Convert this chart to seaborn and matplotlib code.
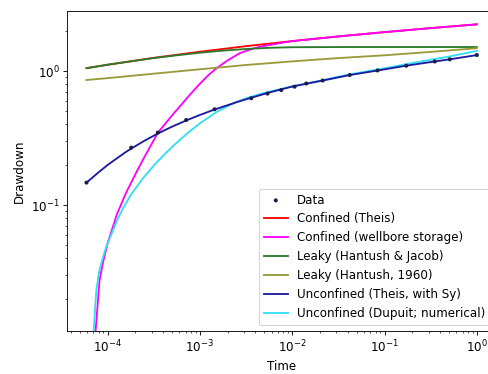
import numpy as np
import pandas as pd
import matplotlib
matplotlib.use("Agg")
import matplotlib.pyplot as plt
import seaborn as sns

# Observed data
data_t = [5.9e-5, 1.8e-4, 3.5e-4, 7.1e-4, 1.44e-3, 3.6e-3, 5.4e-3, 7.6e-3, 1.06e-2,
          1.42e-2, 2.14e-2, 4.2e-2, 8.4e-2, 0.172, 0.35, 0.51, 1.0]
data_s = [0.147, 0.268, 0.347, 0.431, 0.518, 0.626, 0.679, 0.721, 0.764,
          0.807, 0.849, 0.934, 1.01, 1.095, 1.178, 1.223, 1.316]

# Confined (Theis)
theis_t = [5.9e-5, 1e-4, 3.16e-4, 1e-3, 3.16e-3, 1e-2, 3.16e-2, 0.1, 0.316, 1.0]
theis_s = [1.05, 1.114, 1.254, 1.393, 1.533, 1.672, 1.812, 1.951, 2.09, 2.23]

# Leaky (Hantush & Jacob)
hj_t = [5.9e-5, 1e-4, 3.16e-4, 5.62e-4, 1e-3, 1.78e-3, 3.16e-3, 5.62e-3, 1e-2, 3.16e-2, 0.1, 1.0]
hj_s = [1.05, 1.114, 1.25, 1.31, 1.37, 1.42, 1.46, 1.49, 1.505, 1.51, 1.51, 1.51]

# Leaky (Hantush, 1960)
h60_t = [5.9e-5, 1e-4, 3.2e-4, 1e-3, 3.2e-3, 1e-2, 3.2e-2, 0.1, 0.32, 1.0]
h60_s = [0.857, 0.885, 0.956, 1.03, 1.11, 1.18, 1.25, 1.31, 1.39, 1.48]

# Confined (wellbore storage)
wb_t = [6.92e-5, 7.41e-5, 8.18e-5, 8.91e-5, 1.0e-4, 1.05e-4, 1.26e-4, 1.58e-4, 2.0e-4,
        2.51e-4, 3.51e-4, 5.01e-4, 6.31e-4, 7.94e-4, 1e-3, 1.26e-3, 1.51e-3, 2.0e-3,
        2.69e-3, 3.55e-3, 4.44e-3, 6.31e-3, 1e-2, 3.16e-2, 0.1, 0.316, 1.0]
wb_s = [0.007, 0.0115, 0.0275, 0.0372, 0.0519, 0.0575, 0.0851, 0.123, 0.170,
        0.229, 0.347, 0.468, 0.562, 0.676, 0.804, 0.944, 1.047, 1.202,
        1.355, 1.452, 1.517, 1.585, 1.672, 1.812, 1.951, 2.09, 2.23]

# Unconfined (Theis, with Sy)
sy_t = [5.92e-5, 7.94e-5, 1e-4, 1.26e-4, 1.58e-4, 1.81e-4, 2.51e-4, 3.51e-4, 5.01e-4,
        7.13e-4, 1e-3, 1.44e-3, 2.51e-3, 3.61e-3, 5.41e-3, 1e-2, 2.14e-2, 4.19e-2,
        8.43e-2, 0.172, 0.349, 0.507, 1.0]
sy_s = [0.147, 0.175, 0.199, 0.223, 0.249, 0.264, 0.302, 0.342, 0.385,
        0.428, 0.470, 0.516, 0.586, 0.632, 0.686, 0.766, 0.849, 0.933,
        1.009, 1.096, 1.178, 1.222, 1.315]

# Unconfined (Dupuit; numerical)
dup_t = [6.84e-5, 7.05e-5, 7.55e-5, 8.13e-5, 8.91e-5, 9.68e-5, 1.26e-4, 1.47e-4, 1.78e-4,
         2.41e-4, 3.16e-4, 3.98e-4, 5.01e-4, 6.31e-4, 7.73e-4, 1e-3, 1.51e-3, 2.0e-3,
         2.51e-3, 3.18e-3, 4.47e-3, 6.14e-3, 1e-2, 2.0e-2, 4.19e-2, 0.1, 0.207, 0.501, 1.0]
dup_s = [0.0079, 0.0114, 0.0232, 0.0324, 0.0407, 0.0489, 0.0764, 0.0944, 0.119,
         0.158, 0.197, 0.233, 0.272, 0.314, 0.354, 0.407, 0.494, 0.547,
         0.589, 0.627, 0.673, 0.711, 0.767, 0.847, 0.944, 1.047, 1.153, 1.282, 1.413]

dpi = 78
plt.rcParams["font.size"] = 11
fig = plt.figure(figsize=(488 / dpi, 374 / dpi), dpi=dpi)
ax = fig.add_axes([0.1373, 0.115, 0.8795, 0.8556])

sns.scatterplot(x=data_t, y=data_s, ax=ax, marker="o", s=14, color="#1c1c4c",
                edgecolor="none", label="Data", zorder=5)

curves = [
    (theis_t, theis_s, "red", "Confined (Theis)", 2),
    (wb_t, wb_s, "magenta", "Confined (wellbore storage)", 2),
    (hj_t, hj_s, "#2a7a2a", "Leaky (Hantush & Jacob)", 2),
    (h60_t, h60_s, "#9a9a3a", "Leaky (Hantush, 1960)", 2),
    (sy_t, sy_s, "#1a1aa0", "Unconfined (Theis, with Sy)", 4),
    (dup_t, dup_s, "#33ddf5", "Unconfined (Dupuit; numerical)", 3),
]
for t, s, c, lab, z in curves:
    df = pd.DataFrame({"t": t, "s": s})
    sns.lineplot(data=df, x="t", y="s", ax=ax, color=c, label=lab, estimator=None,
                 sort=False, linewidth=1.7, zorder=z)

ax.set_xscale("log")
ax.set_yscale("log")
ax.set_xlim(10 ** -4.44, 10 ** 0.21)
ax.set_ylim(0.01148, 2.805)
ax.set_xlabel("Time")
ax.set_ylabel("Drawdown")
ax.legend(loc="lower right")

fig.savefig("out.png", dpi=dpi)
